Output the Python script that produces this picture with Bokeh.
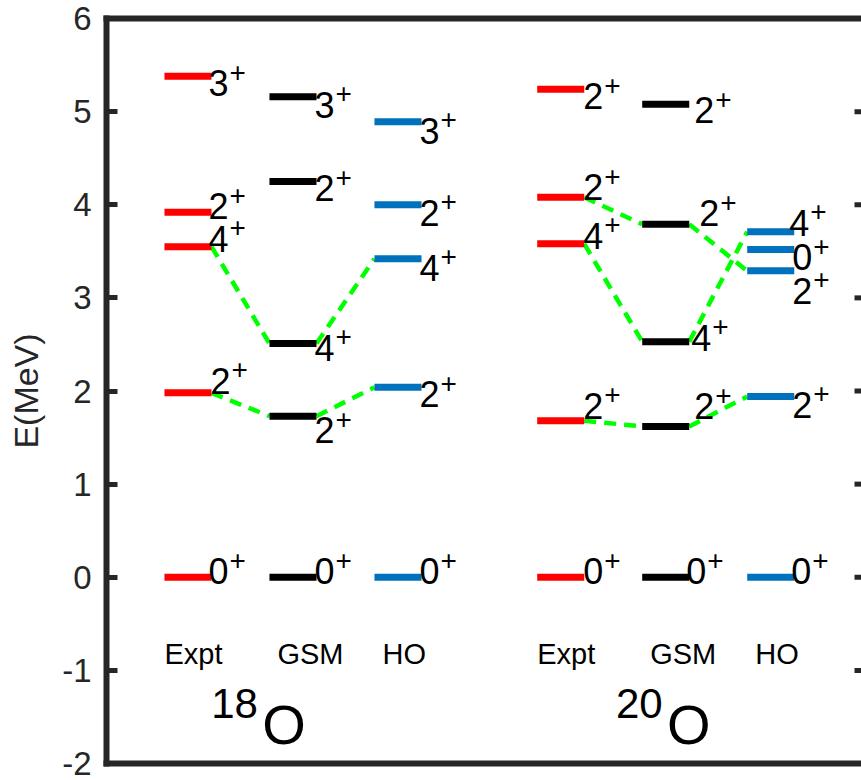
from bokeh.plotting import figure
from bokeh.models import Range1d, FixedTicker, ColumnDataSource, LinearAxis
from bokeh.core.properties import value
from bokeh.embed import file_html
from bokeh.resources import INLINE

# ---------------- data ----------------
models = ["Expt", "GSM", "HO"]
model_colors = ["#ff0000", "#000000", "#0072bd"]
nuclei = ["18", "20"]

# 18O levels (MeV) and spins
E_18O_expt = [0.00, 1.98, 3.55, 3.92, 5.38]
J_18O_expt = ["0", "2", "4", "2", "3"]
E_18O_gsm = [0.00, 1.73, 2.51, 4.25, 5.16]
J_18O_gsm = ["0", "2", "4", "2", "3"]
E_18O_ho = [0.00, 2.04, 3.42, 4.00, 4.89]
J_18O_ho = ["0", "2", "4", "2", "3"]

# 20O levels (MeV) and spins
E_20O_expt = [0.00, 1.68, 3.58, 4.08, 5.24]
J_20O_expt = ["0", "2", "4", "2", "2"]
E_20O_gsm = [0.00, 1.62, 2.53, 3.79, 5.08]
J_20O_gsm = ["0", "2", "4", "2", "2"]
E_20O_ho = [0.00, 1.94, 3.29, 3.52, 3.71]
J_20O_ho = ["0", "2", "2", "0", "4"]

# correspondence lines (index in Expt, GSM, HO lists)
links_18O = [(1, 1, 1), (2, 2, 2)]
links_20O = [(1, 1, 1), (2, 2, 4), (3, 3, 2)]

y_ticks = [-2, -1, 0, 1, 2, 3, 4, 5, 6]
y_tick_labels = ["-2", "-1", "0", "1", "2", "3", "4", "5", "6"]

# ---------------- layout / style ----------------
col_pos = {"18": [1.0, 2.0, 3.0], "20": [4.55, 5.55, 6.55]}
hw = 0.224
FONT = "Liberation Sans"
FRAME = "#262626"

levels = {
    "18": [(E_18O_expt, J_18O_expt), (E_18O_gsm, J_18O_gsm), (E_18O_ho, J_18O_ho)],
    "20": [(E_20O_expt, J_20O_expt), (E_20O_gsm, J_20O_gsm), (E_20O_ho, J_20O_ho)],
}
links = {"18": links_18O, "20": links_20O}

# label offsets in pixels (dx, dy of baseline) per level, tuned to reference
lab_off = {
    "18": [
        [(0, 7), (2, 1), (0, 5), (0, 7), (0, 20)],
        [(1, 7), (1, 27), (1, 17), (1, 20), (1, 21)],
        [(1, 7), (1, 20), (1, 22), (1, 21), (1, 22)],
    ],
    "20": [
        [(2, 7), (2, -2), (2, 5), (2, 3), (2, 20)],
        [(0, 7), (8, -7), (5, 9), (13, 2), (8, 19)],
        [(0, 7), (1, 21), (1, 33), (1, 21), (-2, 4)],
    ],
}
BASE_FIX_DIGIT = -13   # baseline correction for 36px text
BASE_FIX_PLUS = -10
model_lab_dx = [0, 8, 8]
nuc_off = {"18": (-9, -30), "20": (23, -30)}

x0r = 0.224
x1r = x0r + 755 / 105.0
p = figure(width=861, height=780,
           x_range=Range1d(x0r, x1r), y_range=Range1d(-2, 6),
           output_backend="svg", toolbar_location=None,
           min_border_left=106, min_border_right=0, min_border_top=18, min_border_bottom=17)
p.outline_line_color = None
p.grid.visible = False
p.background_fill_color = "white"
p.border_fill_color = "white"

# left axis
ya = p.yaxis[0]
ya.ticker = FixedTicker(ticks=y_ticks)
ya.major_label_overrides = {t: s for t, s in zip(y_ticks, y_tick_labels)}
ya.axis_line_width = 6
ya.axis_line_color = FRAME
ya.axis_line_cap = "square"
ya.major_tick_in = 11
ya.major_tick_out = 0
ya.major_tick_line_width = 5
ya.major_tick_line_color = FRAME
ya.minor_tick_line_color = None
ya.major_label_text_font = FONT
ya.major_label_text_font_size = "33px"
ya.major_label_text_color = FRAME
ya.major_label_standoff = 15
ya.axis_label = "E(MeV)"
ya.axis_label_text_font = FONT
ya.axis_label_text_font_size = "34px"
ya.axis_label_text_font_style = "normal"
ya.axis_label_text_color = FRAME
ya.axis_label_standoff = 14

# bottom axis: line only
xa = p.xaxis[0]
xa.ticker = FixedTicker(ticks=[])
xa.axis_line_width = 6
xa.axis_line_color = FRAME
xa.axis_line_cap = "square"
xa.major_tick_line_color = None
xa.minor_tick_line_color = None

# top axis: line only
top = LinearAxis(ticker=FixedTicker(ticks=[]), axis_line_width=6, axis_line_color=FRAME,
                 axis_line_cap="square", major_tick_line_color=None, minor_tick_line_color=None)
p.add_layout(top, "above")

# right-side inward ticks (frame edge coincides with the window border)
p.rect(x=[x1r] * len(y_ticks), y=y_ticks, width=14, height=5,
       width_units="screen", height_units="screen", fill_color=FRAME, line_color=None)

for nuc in nuclei:
    pos = col_pos[nuc]
    # correspondence dashed lines
    lx0, ly0, lx1, ly1 = [], [], [], []
    for link in links[nuc]:
        for m in range(2):
            lx0.append(pos[m] + hw)
            ly0.append(levels[nuc][m][0][link[m]])
            lx1.append(pos[m + 1] - hw)
            ly1.append(levels[nuc][m + 1][0][link[m + 1]])
    p.segment(x0=lx0, y0=ly0, x1=lx1, y1=ly1, line_color="#00ff00", line_width=4.5,
              line_dash="12 8", line_cap="butt")

    for m, (E, J) in enumerate(levels[nuc]):
        offs = lab_off[nuc][m]
        src = ColumnDataSource(dict(
            x0=[pos[m] - hw] * len(E), x1=[pos[m] + hw] * len(E), y=E, j=J,
            dx=[o[0] - 3 for o in offs], dy=[o[1] + BASE_FIX_DIGIT for o in offs],
            pdx=[o[0] - 3 + 21 for o in offs], pdy=[o[1] - 14 + BASE_FIX_PLUS for o in offs],
            plus=["+"] * len(E)))
        p.segment(x0="x0", y0="y", x1="x1", y1="y", source=src, line_color=model_colors[m],
                  line_width=7, line_cap="butt")
        p.text(x="x1", y="y", text="j", x_offset="dx", y_offset="dy", source=src,
               text_font=value(FONT), text_font_size="36px", text_color="black",
               text_baseline="alphabetic", text_align="left")
        p.text(x="x1", y="y", text="plus", x_offset="pdx", y_offset="pdy", source=src,
               text_font=value(FONT), text_font_size="28px", text_color="black",
               text_baseline="alphabetic", text_align="left")

    # model labels
    p.text(x=[pos[m] - hw for m in range(3)], y=[-1] * 3, text=models,
           x_offset=model_lab_dx, y_offset=-16,
           text_font=value(FONT), text_font_size="29px", text_color="black",
           text_baseline="alphabetic", text_align="left")

    # nucleus label  ^A O
    ox, ax = nuc_off[nuc]
    p.text(x=[pos[1]], y=[-2], text=["O"], x_offset=ox, y_offset=-39,
           text_font=value(FONT), text_font_size="56px", text_color="black",
           text_baseline="alphabetic", text_align="center")
    p.text(x=[pos[1]], y=[-2], text=[nuc], x_offset=ox + ax + 4, y_offset=-60,
           text_font=value(FONT), text_font_size="42px", text_color="black",
           text_baseline="alphabetic", text_align="right")

open("out.html", "w").write(file_html(p, INLINE))
